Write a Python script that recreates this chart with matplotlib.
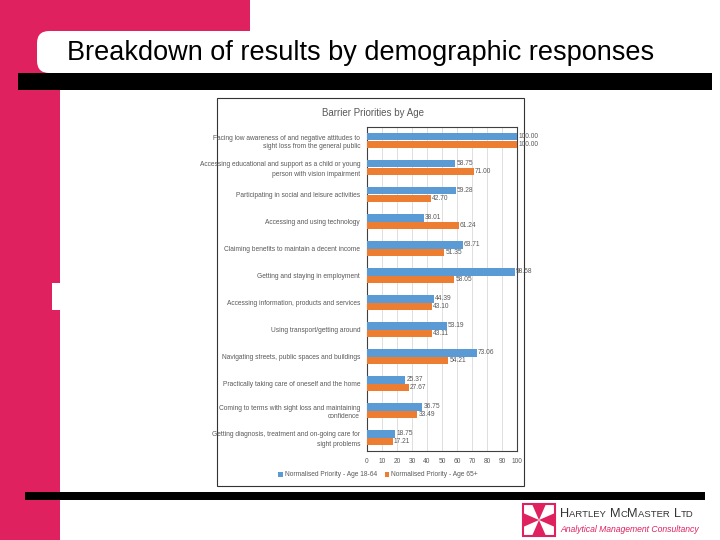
import numpy as np
import matplotlib
matplotlib.use('Agg')
import matplotlib.pyplot as plt
from matplotlib.patches import Rectangle, FancyBboxPatch, Polygon

plt.rcParams['font.family'] = ['Liberation Sans', 'DejaVu Sans']

# chart data (top to bottom)
categories = [
    'Facing low awareness of and negative attitudes to\nsight loss from the general public',
    'Accessing educational and support as a child or young\nperson with vision impairment',
    'Participating in social and leisure activities',
    'Accessing and using technology',
    'Claiming benefits to maintain a decent income',
    'Getting and staying in employment',
    'Accessing information, products and services',
    'Using transport/getting around',
    'Navigating streets, public spaces and buildings',
    'Practically taking care of oneself and the home',
    'Coming to terms with sight loss and maintaining\nconfidence',
    'Getting diagnosis, treatment and on-going care for\nsight problems',
]
age_18_64 = [100.00, 58.75, 59.28, 38.01, 63.71, 98.58, 44.39, 53.19, 73.06, 25.37, 36.75, 18.75]
age_65_plus = [100.00, 71.00, 42.70, 61.24, 51.35, 58.05, 43.10, 43.11, 54.21, 27.67, 33.49, 17.21]
series_names = ['Normalised Priority - Age 18-64', 'Normalised Priority - Age 65+']
x_ticks = list(range(0, 101, 10))

PINK = '#E0215F'
BLUE = '#5B9BD5'
ORANGE = '#ED7D31'
GREY = '#595959'

W, H = 720, 540
fig = plt.figure(figsize=(7.2, 5.4), dpi=100)
renderer = fig.canvas.get_renderer()


def fx(x):
    return x / W


def fy(y):
    return 1 - y / H


def rect(x0, y0, x1, y1, **kw):
    fig.patches.append(Rectangle((fx(x0), fy(y1)), fx(x1 - x0), (y1 - y0) / H,
                                 transform=fig.transFigure, **kw))


# slide decoration
rect(0, 0, 60, 540, color=PINK, lw=0, zorder=0)
rect(0, 0, 250, 32, color=PINK, lw=0, zorder=0)
fig.patches.append(FancyBboxPatch((fx(37), fy(73)), fx(720 - 37), 42 / H,
                                  boxstyle='round,pad=0,rounding_size=0.017',
                                  transform=fig.transFigure, color='white', lw=0,
                                  zorder=1, mutation_aspect=W / H))
rect(18, 73, 712, 90, color='black', lw=0, zorder=2)
rect(52, 283, 60, 310, color='white', lw=0, zorder=1)
rect(25, 492, 705, 500, color='black', lw=0, zorder=2)
fig.text(fx(67), fy(53), 'Breakdown of results by demographic responses',
         fontsize=19.5, color='black', va='center', ha='left', zorder=3)

# logo
lx0, ly0, lx1, ly1 = 523, 504, 555, 536
rect(lx0, ly0, lx1, ly1, color='white', lw=0, zorder=2)
rect(lx0, ly0, lx1, ly1, facecolor='none', edgecolor=PINK, lw=1.5, zorder=4)
cx, cy = (lx0 + lx1) / 2, (ly0 + ly1) / 2
a, b = 9, 23
tris = [[(lx0 + a, ly0), (lx0 + b, ly0), (cx, cy)],
        [(lx0 + a, ly1), (lx0 + b, ly1), (cx, cy)],
        [(lx0, ly0 + a), (lx0, ly0 + b), (cx, cy)],
        [(lx1, ly0 + a), (lx1, ly0 + b), (cx, cy)]]
for pts in tris:
    fig.patches.append(Polygon([(fx(p), fy(q)) for p, q in pts], closed=True,
                               transform=fig.transFigure, color=PINK, lw=0, zorder=3))

# small caps company name
x = 560
for part, size in [('H', 9.2), ('ARTLEY ', 6.8), ('M', 9.2), ('C', 6.8), ('M', 9.2),
                   ('ASTER ', 6.8), ('L', 9.2), ('TD', 6.8)]:
    t = fig.text(fx(x), fy(517), part, fontsize=size, color='#333333',
                 va='baseline', ha='left', zorder=3)
    x += t.get_window_extent(renderer).width + (1.5 if part.endswith(' ') else 0)
fig.text(fx(560), fy(530), 'Analytical Management Consultancy', fontsize=6.2,
         color=PINK, style='italic', va='center', ha='left', zorder=3)

# chart frame
rect(217, 98, 524, 486, facecolor='white', edgecolor='#333333', lw=0.8, zorder=1)
fig.text(fx(373), fy(113), 'Barrier Priorities by Age', fontsize=7, color=GREY,
         ha='center', va='center', zorder=3)

ax = fig.add_axes([fx(367), fy(451), fx(517 - 367), (451 - 127) / H], zorder=4)
ax.set_facecolor('none')
y = np.arange(len(categories))
h = 0.27
b1 = ax.barh(y - h / 2, age_18_64, height=h, color=BLUE, label=series_names[0], zorder=3)
b2 = ax.barh(y + h / 2, age_65_plus, height=h, color=ORANGE, label=series_names[1], zorder=3)
for bars, vals in [(b1, age_18_64), (b2, age_65_plus)]:
    for bar, v in zip(bars, vals):
        ax.text(v + 0.8, bar.get_y() + bar.get_height() / 2, f'{v:.2f}',
                fontsize=4.8, color=GREY, va='center', ha='left', clip_on=False, zorder=5)
ax.set_xlim(0, 100)
ax.set_ylim(len(categories) - 0.5, -0.5)
ax.set_xticks(x_ticks)
ax.set_xticklabels([str(t) for t in x_ticks])
ax.set_yticks(y)
ax.set_yticklabels(categories, linespacing=1.4)
ax.tick_params(axis='both', length=0, labelsize=4.8, labelcolor=GREY, pad=5)
ax.xaxis.grid(True, color='#D9D9D9', lw=0.6, zorder=0)
ax.set_axisbelow(True)
for s in ax.spines.values():
    s.set_color('#404040')
    s.set_linewidth(0.8)

fig.legend(handles=[b1, b2], labels=series_names, loc='center',
           bbox_to_anchor=(fx(378), fy(475)), ncol=2, frameon=False,
           fontsize=4.8, labelcolor=GREY, handlelength=0.7, handleheight=0.7,
           handletextpad=0.3, columnspacing=1.2)

fig.savefig('out.png', dpi=100)
